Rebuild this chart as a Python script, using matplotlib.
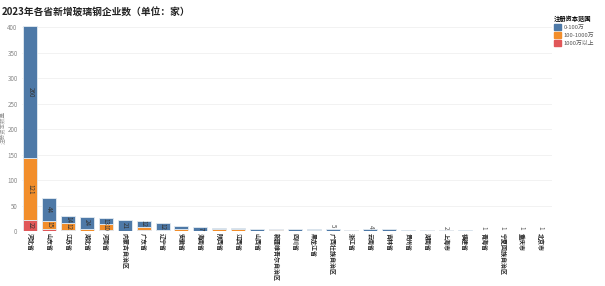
import numpy as np
import matplotlib
matplotlib.use('Agg')
import matplotlib.pyplot as plt

plt.rcParams['font.family'] = ['Noto Sans CJK SC', 'DejaVu Sans']

provinces = ['河北省', '山东省', '江苏省', '湖北省', '河南省', '内蒙古自治区', '广东省',
             '辽宁省', '安徽省', '海南省', '陕西省', '江西省', '山西省', '新疆维吾尔自治区',
             '四川省', '黑龙江省', '广西壮族自治区', '浙江省', '云南省', '吉林省', '贵州省',
             '湖南省', '上海市', '福建省', '青海省', '宁夏回族自治区', '重庆市', '北京市']
# companies by registered capital range
big = [22, 5, 3, 0, 3, 0, 3, 1, 1, 0, 1, 1, 0, 3, 0, 0, 0, 0, 0, 0, 0, 1, 0, 0, 0, 1, 0, 0]
mid = [121, 15, 12, 4, 10, 1, 5, 2, 4, 1, 3, 3, 0, 1, 0, 2, 0, 2, 0, 0, 0, 1, 2, 0, 0, 0, 1, 0]
small = [260, 44, 14, 24, 13, 21, 12, 12, 5, 7, 3, 2, 5, 1, 4, 2, 5, 1, 4, 4, 3, 0, 0, 2, 1, 0, 0, 1]
series_names = ['0-100万', '100-1000万', '1000万以上']
colors = ['#4e79a7', '#f28e2b', '#e15759']
top_labels = ['广西壮族自治区', '云南省', '上海市', '青海省', '宁夏回族自治区', '重庆市', '北京市']

fig = plt.figure(figsize=(6.05, 2.86), dpi=100)
ax = fig.add_axes([0.036, 0.192, 0.876, 0.722])

x = np.arange(len(provinces))
stack = [big, mid, small]
stack_colors = [colors[2], colors[1], colors[0]]
bottom = np.zeros(len(provinces))
for vals, col in zip(stack, stack_colors):
    vals = np.array(vals)
    ax.bar(x, vals, 0.74, bottom=bottom, color=col, edgecolor='#e4ebf2', linewidth=0.6, zorder=2)
    for i, v in enumerate(vals):
        if v >= 7:
            ax.text(i, bottom[i] + v / 2, str(v), rotation=-90, ha='center', va='center',
                    fontsize=4.5, color='#333333', zorder=3)
    bottom += vals

for name in top_labels:
    i = provinces.index(name)
    ax.text(i, bottom[i] + 2, str(int(bottom[i])), rotation=-90, ha='center', va='bottom',
            fontsize=4.5, color='#555555')

ax.set_xlim(-0.45, len(provinces) - 0.4)
ax.set_ylim(0, 405)
ax.set_yticks(np.arange(0, 401, 50))
ax.tick_params(axis='y', labelsize=4.5, labelcolor='#888888', length=0, pad=3)
ax.set_xticks(x)
ax.set_xticklabels(provinces, rotation=-90, fontsize=4.3, color='#222222', fontweight='bold')
ax.tick_params(axis='x', length=0, pad=1.5)
ax.grid(axis='y', color='#f0f0f0', linewidth=0.6, zorder=0)
for s in ax.spines.values():
    s.set_visible(False)
ax.set_ylabel('注册资本数量', fontsize=4, color='#999999', labelpad=2)

fig.text(0.003, 0.975, '2023年各省新增玻璃钢企业数（单位：家）', fontsize=7, fontweight='bold',
         color='#222222', va='top')

handles = [plt.Rectangle((0, 0), 1, 1, color=c) for c in colors]
leg = fig.legend(handles, series_names, title='注册资本范围', loc='upper left',
                 bbox_to_anchor=(0.912, 0.955), frameon=False, fontsize=4.2,
                 title_fontsize=4.5, handlelength=1.2, handleheight=1.2,
                 handletextpad=0.4, labelspacing=0.35, borderaxespad=0)
leg.get_title().set_fontweight('bold')
leg._legend_box.align = 'left'
for t in leg.get_texts():
    t.set_color('#555555')

fig.savefig('out.png', dpi=100)
